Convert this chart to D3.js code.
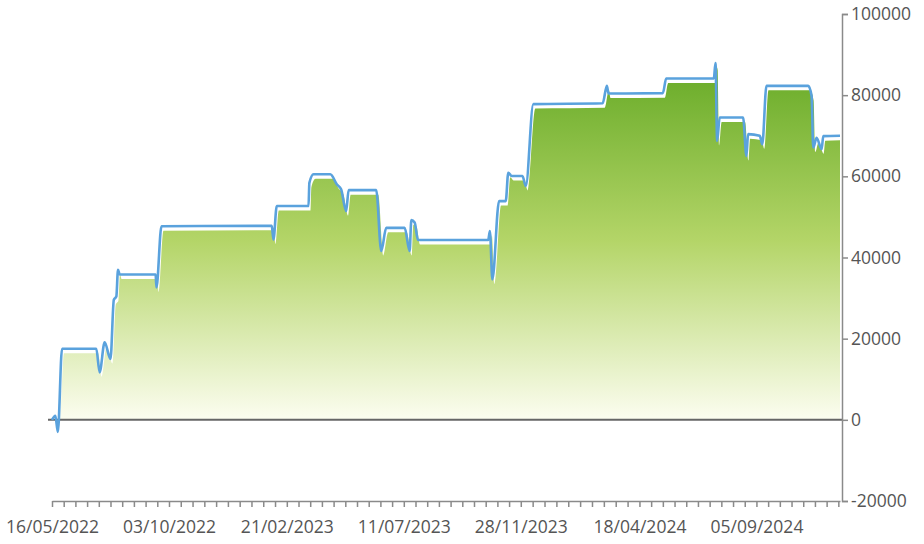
<!DOCTYPE html>
<html>
<head>
<meta charset="utf-8">
<script src="https://d3js.org/d3.v7.min.js"></script>
<style>
  body { margin: 0; background: #fff; }
  .axis text { font-family: "Open Sans", sans-serif; font-size: 17.5px; fill: #555; }
  .axis path, .axis line { stroke: #8a8a8a; stroke-width: 1.5px; }
</style>
</head>
<body>
<div id="chart"></div>
<script>
  const startDate = new Date(2022, 4, 16);
  const endDay = 943;
  // days since 16/05/2022 and running value
  const dayOffsets = [0, 4, 7, 12, 53, 57, 63, 70, 74, 77, 79, 81, 124, 125, 131,
    263, 265, 269, 307, 308, 313, 333, 341, 346, 352, 355, 388, 394, 400, 422,
    428, 430, 434, 438, 522, 524, 527, 535, 543, 546, 550, 563, 567, 576, 659,
    664, 666, 731, 735, 792, 794, 796, 799, 827, 831, 833, 847, 850, 855, 905,
    909, 911, 915, 921, 923, 943];
  const values = [0, 1000, -3000, 17500, 17500, 11700, 19100, 15000, 29600, 30400, 37000, 35800, 35800, 32600, 47700,
    47800, 44400, 52700, 52700, 58400, 60500, 60500, 58000, 56800, 51400, 56600, 56600, 41600, 47300, 47300,
    41600, 49200, 48600, 44300, 44300, 46500, 34600, 53900, 53900, 60900, 60100, 60100, 57600, 77800, 78000,
    82300, 80400, 80500, 84100, 84100, 87900, 68700, 74500, 74500, 65000, 70400, 70000, 67900, 82300, 82300,
    79800, 67100, 69500, 66700, 69900, 70000];
  const xLabels = ["16/05/2022", "03/10/2022", "21/02/2023", "11/07/2023", "28/11/2023", "18/04/2024", "05/09/2024"];
  const yTicks = [-20000, 0, 20000, 40000, 60000, 80000, 100000];
  const minorPerLabel = 10;

  const parse = d3.timeParse("%d/%m/%Y");
  const fmt = d3.timeFormat("%d/%m/%Y");
  const data = dayOffsets.map((d, i) => ({ date: d3.timeDay.offset(startDate, d), value: values[i] }));
  const endDate = d3.timeDay.offset(startDate, endDay);

  const width = 924, height = 544;
  const margin = { top: 14, right: 82, bottom: 43, left: 52 };

  const svg = d3.select("#chart").append("svg")
    .attr("width", width).attr("height", height);

  const x = d3.scaleTime()
    .domain([startDate, endDate])
    .range([margin.left, width - margin.right - 2]);
  const y = d3.scaleLinear()
    .domain([-20000, 100000])
    .range([height - margin.bottom, margin.top]);

  const grad = svg.append("defs").append("linearGradient")
    .attr("id", "fillGrad")
    .attr("gradientUnits", "userSpaceOnUse")
    .attr("x1", 0).attr("x2", 0)
    .attr("y1", y(88000)).attr("y2", y(0));
  grad.append("stop").attr("offset", 0).attr("stop-color", "#66aa26");
  grad.append("stop").attr("offset", 0.5).attr("stop-color", "#b4d568");
  grad.append("stop").attr("offset", 1).attr("stop-color", "#fcfdf0");

  // fill sits a little below/right of the line
  const area = d3.area()
    .curve(d3.curveMonotoneX)
    .x(d => Math.min(x(d.date) + 2, x.range()[1]))
    .y0(y(0))
    .y1(d => Math.min(y(d.value) + 4.5, y(0)));

  svg.append("path").datum(data)
    .attr("d", area)
    .attr("fill", "url(#fillGrad)");

  // zero line
  svg.append("line")
    .attr("x1", margin.left - 4).attr("x2", x.range()[1] + 2)
    .attr("y1", y(0)).attr("y2", y(0))
    .attr("stroke", "#666").attr("stroke-width", 2);

  const line = d3.line()
    .curve(d3.curveMonotoneX)
    .x(d => x(d.date))
    .y(d => y(d.value));

  svg.append("path").datum(data)
    .attr("d", line)
    .attr("fill", "none")
    .attr("stroke", "#5aa2dd")
    .attr("stroke-width", 2.6)
    .attr("stroke-linejoin", "round");

  // x axis: labelled dates, 10 minor ticks between each pair
  const labelDates = xLabels.map(parse);
  const tickTimes = [];
  labelDates.forEach((d, i) => {
    const next = labelDates[i + 1];
    const step = next ? (next - d) / minorPerLabel : (d - labelDates[i - 1]) / minorPerLabel;
    for (let k = 0; k < minorPerLabel; k++) {
      const t = +d + k * step;
      if (t <= +endDate) tickTimes.push(t);
    }
  });
  const labelSet = new Set(labelDates.map(d => +d));

  svg.append("g")
    .attr("class", "axis")
    .attr("transform", `translate(0,${y(-20000)})`)
    .call(d3.axisBottom(x)
      .tickValues(tickTimes.map(t => new Date(t)))
      .tickSize(6)
      .tickSizeOuter(0)
      .tickFormat(d => labelSet.has(+d) ? fmt(d) : ""))
    .call(g => g.selectAll("text").attr("dy", "1.3em"));

  svg.append("g")
    .attr("class", "axis")
    .attr("transform", `translate(${x.range()[1] + 2},0)`)
    .call(d3.axisRight(y)
      .tickValues(yTicks)
      .tickSize(6)
      .tickSizeOuter(6)
      .tickPadding(3)
      .tickFormat(d => String(d)));
</script>
</body>
</html>
